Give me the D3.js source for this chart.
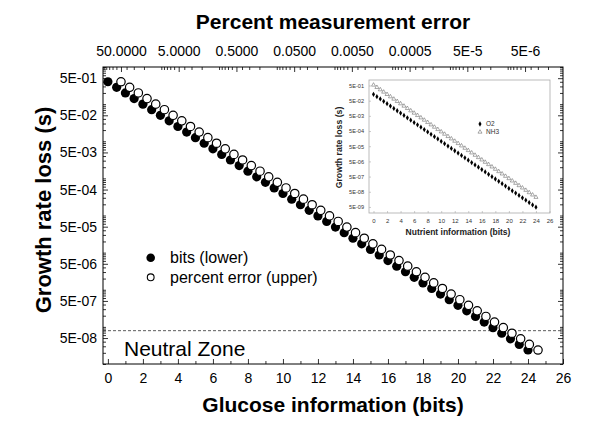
<!DOCTYPE html>
<html><head><meta charset="utf-8">
<script src="https://cdn.jsdelivr.net/npm/d3@7"></script>
<style>body{margin:0;background:#fff}svg{display:block}</style>
</head><body><svg id="c" width="600" height="441"></svg>
<script>
// ---------- DATA ----------
const bits = [0,0.5,1,1.5,2,2.5,3,3.5,4,4.5,5,5.5,6,6.5,7,7.5,8,8.5,9,9.5,10,10.5,11,11.5,12,12.5,13,13.5,14,14.5,15,15.5,16,16.5,17,17.5,18,18.5,19,19.5,20,20.5,21,21.5,22,22.5,23,23.5,24];
const growthLoss = [0.400,0.283,0.200,0.141,0.100,0.0707,0.0500,0.0354,0.0250,0.0177,0.0125,0.00884,0.00625,0.00442,0.00313,0.00221,0.00156,0.00110,7.81e-4,5.52e-4,3.91e-4,2.76e-4,1.95e-4,1.38e-4,9.77e-5,6.91e-5,4.88e-5,3.45e-5,2.44e-5,1.73e-5,1.22e-5,8.63e-6,6.10e-6,4.32e-6,3.05e-6,2.16e-6,1.53e-6,1.08e-6,7.63e-7,5.39e-7,3.81e-7,2.70e-7,1.91e-7,1.35e-7,9.54e-8,6.74e-8,4.77e-8,3.37e-8,2.38e-8];
const percentError = [50,35.4,25,17.7,12.5,8.84,6.25,4.42,3.125,2.21,1.5625,1.105,0.781,0.552,0.391,0.276,0.195,0.138,0.0977,0.0691,0.0488,0.0345,0.0244,0.0173,0.0122,0.00863,0.0061,0.00432,0.00305,0.00216,0.00153,0.00108,7.63e-4,5.39e-4,3.81e-4,2.70e-4,1.91e-4,1.35e-4,9.54e-5,6.74e-5,4.77e-5,3.37e-5,2.38e-5,1.69e-5,1.19e-5,8.43e-6,5.96e-6,4.21e-6,2.98e-6];
const bottomTicks = [0,2,4,6,8,10,12,14,16,18,20,22,24,26];
const leftTicks = [5e-1,5e-2,5e-3,5e-4,5e-5,5e-6,5e-7,5e-8];
const leftTickLabels = ["5E-01","5E-02","5E-03","5E-04","5E-05","5E-06","5E-07","5E-08"];
const topTicks = [50,5,0.5,0.05,0.005,0.0005,5e-5,5e-6];
const topTickLabels = ["50.0000","5.0000","0.5000","0.0500","0.0050","0.0005","5E-5","5E-6"];
const neutralZoneLoss = 7.9e-8;
const legendLabels = ["bits (lower)","percent error (upper)"];

// inset
const insetBits = [0,0.5,1,1.5,2,2.5,3,3.5,4,4.5,5,5.5,6,6.5,7,7.5,8,8.5,9,9.5,10,10.5,11,11.5,12,12.5,13,13.5,14,14.5,15,15.5,16,16.5,17,17.5,18,18.5,19,19.5,20,20.5,21,21.5,22,22.5,23,23.5,24];
const o2Loss = [0.1320,0.0924,0.0646,0.0452,0.0317,0.02216,0.01551,0.01085,0.00760,0.00532,0.00372,0.002604,0.001822,0.001275,8.92e-4,6.25e-4,4.37e-4,3.06e-4,2.14e-4,1.498e-4,1.048e-4,7.34e-5,5.14e-5,3.59e-5,2.516e-5,1.760e-5,1.232e-5,8.62e-6,6.03e-6,4.22e-6,2.955e-6,2.068e-6,1.447e-6,1.013e-6,7.09e-7,4.96e-7,3.47e-7,2.43e-7,1.701e-7,1.190e-7,8.33e-8,5.83e-8,4.08e-8,2.855e-8,2.00e-8,1.398e-8,9.79e-9,6.85e-9,4.79e-9];
const nh3Loss = [0.540,0.379,0.2657,0.1864,0.1307,0.0917,0.0643,0.0451,0.0317,0.0222,0.01558,0.01093,0.00766,0.00537,0.00377,0.002645,0.001855,0.001301,9.13e-4,6.40e-4,4.49e-4,3.15e-4,2.21e-4,1.55e-4,1.087e-4,7.63e-5,5.35e-5,3.75e-5,2.63e-5,1.847e-5,1.296e-5,9.09e-6,6.37e-6,4.47e-6,3.135e-6,2.20e-6,1.543e-6,1.082e-6,7.59e-7,5.33e-7,3.74e-7,2.62e-7,1.838e-7,1.289e-7,9.04e-8,6.34e-8,4.45e-8,3.12e-8,2.19e-8];
const insetXTicks = [0,2,4,6,8,10,12,14,16,18,20,22,24,26];
const insetYTicks = [5e-1,5e-2,5e-3,5e-4,5e-5,5e-6,5e-7,5e-8,5e-9];
const insetYTickLabels = ["5E-01","5E-02","5E-03","5E-04","5E-05","5E-06","5E-07","5E-08","5E-09"];
const insetLegend = ["O2","NH3"];

// ---------- DRAW ----------
const svg = d3.select("#c");
const F = "'Liberation Sans', Arial, Helvetica, sans-serif";
const L = 103, R = 563, T = 67, B = 364;

const x = d3.scaleLinear().domain([-0.28, 26]).range([L, R]);
const xTop = d3.scaleLog().domain([100, 1.1e-6]).range([103.6, R]);
const y = d3.scaleLog().domain([1e-8, 1]).range([B, T]);

function logMinor(lo, hi, skip5) {
  const out = [];
  for (let e = -10; e <= 3; e++) for (let k = 1; k <= 9; k++) {
    const v = k * Math.pow(10, e);
    if (v >= lo * 0.999 && v <= hi * 1.001 && !(skip5 && k === 5)) out.push(v);
  }
  return out;
}

// bottom axis
svg.append("g").attr("transform", `translate(0,${B})`)
  .call(d3.axisBottom(x).tickValues(bottomTicks).tickFormat(d3.format("d")).tickSizeInner(-5).tickSizeOuter(0).tickPadding(9));
svg.append("g").attr("transform", `translate(0,${B})`)
  .call(d3.axisBottom(x).tickValues(d3.range(1, 26, 2)).tickFormat("").tickSizeInner(-3).tickSizeOuter(0));
// top axis
svg.append("g").attr("transform", `translate(0,${T})`)
  .call(d3.axisTop(xTop).tickValues(topTicks).tickFormat((d, i) => topTickLabels[i]).tickSizeInner(-5).tickSizeOuter(0).tickPadding(11));
svg.append("g").attr("transform", `translate(0,${T})`)
  .call(d3.axisTop(xTop).tickValues(logMinor(1.1e-6, 100, true)).tickFormat("").tickSizeInner(-3).tickSizeOuter(0));
// left axis
svg.append("g").attr("transform", `translate(${L},0)`)
  .call(d3.axisLeft(y).tickValues(leftTicks).tickFormat((d, i) => leftTickLabels[i]).tickSizeInner(-5).tickSizeOuter(0).tickPadding(6));
svg.append("g").attr("transform", `translate(${L},0)`)
  .call(d3.axisLeft(y).tickValues(logMinor(1e-8, 1, true)).tickFormat("").tickSizeInner(-3).tickSizeOuter(0));
// right axis
svg.append("g").attr("transform", `translate(${R},0)`)
  .call(d3.axisRight(y).tickValues(leftTicks).tickFormat("").tickSizeInner(-5).tickSizeOuter(0));
svg.append("g").attr("transform", `translate(${R},0)`)
  .call(d3.axisRight(y).tickValues(logMinor(1e-8, 1, true)).tickFormat("").tickSizeInner(-3).tickSizeOuter(0));

svg.selectAll(".domain").remove();
svg.selectAll(".tick line").attr("stroke", "#000").attr("stroke-width", 0.8);
svg.selectAll(".tick text").attr("font-family", F).attr("fill", "#000");
svg.selectAll("g text").attr("font-size", 14);

svg.append("rect").attr("x", L).attr("y", T).attr("width", R - L).attr("height", B - T)
  .attr("fill", "none").attr("stroke", "#000").attr("stroke-width", 1);

// neutral zone line
svg.append("line").attr("x1", L).attr("x2", R).attr("y1", y(neutralZoneLoss)).attr("y2", y(neutralZoneLoss))
  .attr("stroke", "#333").attr("stroke-width", 0.8).attr("stroke-dasharray", "3,2");
svg.append("text").attr("x", 124).attr("y", 356).attr("font-family", F).attr("font-size", 21).text("Neutral Zone");

// axis titles
svg.append("text").attr("x", 333).attr("y", 412).attr("text-anchor", "middle").attr("font-family", F)
  .attr("font-size", 21).attr("font-weight", "bold").text("Glucose information (bits)");
svg.append("text").attr("x", 333).attr("y", 29).attr("text-anchor", "middle").attr("font-family", F)
  .attr("font-size", 21).attr("font-weight", "bold").text("Percent measurement error");
svg.append("text").attr("transform", "translate(51,210) rotate(-90)").attr("text-anchor", "middle").attr("font-family", F)
  .attr("font-size", 22).attr("font-weight", "bold").text("Growth rate loss (s)");

// data
const pts = svg.append("g");
pts.selectAll("circle.f").data(bits).enter().append("circle").attr("class", "f")
  .attr("cx", d => x(d)).attr("cy", (d, i) => y(growthLoss[i])).attr("r", 4.6).attr("fill", "#000");
pts.selectAll("circle.o").data(percentError).enter().append("circle").attr("class", "o")
  .attr("cx", d => xTop(d)).attr("cy", (d, i) => y(growthLoss[i])).attr("r", 4.2)
  .attr("fill", "#fff").attr("stroke", "#000").attr("stroke-width", 1.2);

// legend
svg.append("circle").attr("cx", 150.7).attr("cy", 257.7).attr("r", 4.3).attr("fill", "#000");
svg.append("circle").attr("cx", 150.7).attr("cy", 277.3).attr("r", 3.4).attr("fill", "#fff").attr("stroke", "#000").attr("stroke-width", 1.1);
legendLabels.forEach((t, i) => svg.append("text").attr("x", 170).attr("y", 263 + i * 19.6)
  .attr("font-family", F).attr("font-size", 16).text(t));

// ---------- INSET ----------
const iL = 369, iR = 550, iT = 80, iB = 213;
const xi = d3.scaleLinear().domain([-0.8, 26]).range([368.1, 549.5]);
const yi = d3.scaleLog().domain([2e-9, 1.15]).range([iB, iT]);
const inset = svg.append("g");
inset.append("rect").attr("x", iL).attr("y", iT).attr("width", iR - iL).attr("height", iB - iT)
  .attr("fill", "#fff").attr("stroke", "#aaa").attr("stroke-width", 0.8);
const ix = inset.append("g").attr("transform", `translate(0,${iB})`)
  .call(d3.axisBottom(xi).tickValues(insetXTicks).tickFormat(d3.format("d")).tickSizeInner(-2).tickSizeOuter(0).tickPadding(6));
const iy = inset.append("g").attr("transform", `translate(${iL},0)`)
  .call(d3.axisLeft(yi).tickValues(insetYTicks).tickFormat((d, i) => insetYTickLabels[i]).tickSizeInner(-2).tickSizeOuter(0).tickPadding(5));
inset.selectAll(".domain").remove();
inset.selectAll(".tick line").attr("stroke", "#aaa").attr("stroke-width", 0.6);
ix.selectAll("text").attr("font-family", F).attr("font-size", 6).attr("fill", "#333");
iy.selectAll("text").attr("font-family", F).attr("font-size", 5.6).attr("fill", "#333");

inset.selectAll("path.nh3").data(insetBits).enter().append("path").attr("class", "nh3")
  .attr("transform", (d, i) => `translate(${xi(d)},${yi(nh3Loss[i])})`)
  .attr("d", d3.symbol().type(d3.symbolTriangle).size(7))
  .attr("fill", "#fff").attr("stroke", "#555").attr("stroke-width", 0.5);
inset.selectAll("path.o2").data(insetBits).enter().append("path").attr("class", "o2")
  .attr("transform", (d, i) => `translate(${xi(d)},${yi(o2Loss[i])})`)
  .attr("d", d3.symbol().type(d3.symbolDiamond).size(8)).attr("fill", "#000");

inset.append("path").attr("transform", "translate(480,124)").attr("d", d3.symbol().type(d3.symbolDiamond).size(8)).attr("fill", "#000");
inset.append("path").attr("transform", "translate(480,132)").attr("d", d3.symbol().type(d3.symbolTriangle).size(7))
  .attr("fill", "#fff").attr("stroke", "#555").attr("stroke-width", 0.5);
insetLegend.forEach((t, i) => inset.append("text").attr("x", 486).attr("y", 126.3 + i * 8)
  .attr("font-family", F).attr("font-size", 6.5).attr("fill", "#333").text(t));

inset.append("text").attr("x", 458).attr("y", 235).attr("text-anchor", "middle").attr("font-family", F)
  .attr("font-size", 8.5).attr("font-weight", "bold").attr("fill", "#222").text("Nutrient information (bits)");
inset.append("text").attr("transform", "translate(342,147.5) rotate(-90)").attr("text-anchor", "middle").attr("font-family", F)
  .attr("font-size", 8.7).attr("font-weight", "bold").attr("fill", "#222").text("Growth rate loss (s)");
</script></body></html>
